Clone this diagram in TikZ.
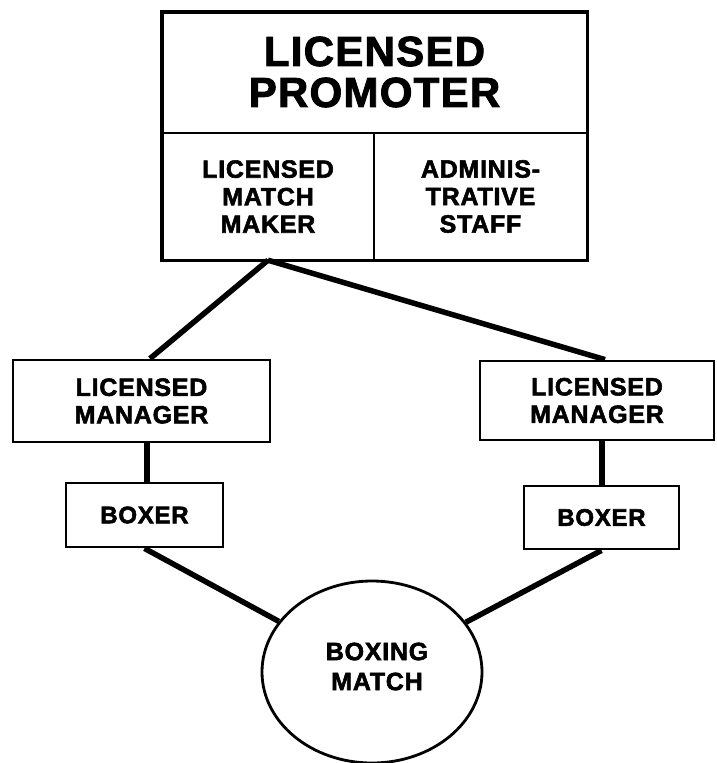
\documentclass[tikz,border=0pt]{standalone}
\usepackage{fontspec}
\setmainfont{Liberation Sans}[LetterSpace=3, BoldFeatures={FakeBold=2.2, LetterSpace=3}]
\usetikzlibrary{shapes.geometric,calc}
\begin{document}
\begin{tikzpicture}[x=1pt,y=-1pt,
  txt/.style={inner sep=0pt, align=center, font=\fontsize{25}{27.5}\selectfont\bfseries},
  box/.style={txt, draw, line width=2.8pt, rectangle},
  link/.style={line width=5.5pt}]
\path[use as bounding box] (0,0) rectangle (717,763);
% top block
\node[txt, minimum width=425, minimum height=120, font=\fontsize{42}{41}\selectfont\bfseries] (prom) at (374.5,72) {LICENSED\\PROMOTER};
\node[txt, minimum width=212, minimum height=127] (mm) at (268,196.5) {LICENSED\\MATCH\\MAKER};
\node[txt, minimum width=213, minimum height=127] (staff) at (480.5,196.5) {ADMINIS-\\TRATIVE\\STAFF};
\draw[line width=3.4pt] (mm.south west |- prom.north) rectangle (staff.south east);
\draw[line width=2pt] (mm.north west) -- (staff.north east);
\draw[line width=2pt] (mm.north east) -- (mm.south east);
% managers and boxers
\node[box, minimum width=257, minimum height=82] (lm) at (141.5,401) {LICENSED\\MANAGER};
\node[box, minimum width=234, minimum height=79] (rm) at (597,400.5) {LICENSED\\MANAGER};
\node[box, minimum width=157, minimum height=64, font=\fontsize{24}{28}\selectfont\bfseries] (lb) at (144.5,515) {BOXER};
\node[box, minimum width=155, minimum height=63, font=\fontsize{24}{28}\selectfont\bfseries] (rb) at (601.5,517.5) {BOXER};
% boxing match
\node[ellipse, draw, line width=2.8pt, minimum width=220, minimum height=182, inner sep=0pt] (bm) at (372,672) {};
\node[txt, font=\fontsize{25}{30}\selectfont\bfseries] (bmt) at (377,666.5) {BOXING\\MATCH};
% connectors
\draw[link] (mm.south) -- ($(lm.north)+(8.5,0)$);
\draw[link] (mm.south) -- ($(rm.north)+(8,0)$);
\draw[link] ($(lm.south)+(5.5,0)$) -- ($(lb.north)+(2.5,0)$);
\draw[link] ($(rm.south)+(5,0)$) -- ($(rb.north)+(0.5,0)$);
\draw[link] (lb.south) -- (bm);
\draw[link] (rb.south) -- (bm);
\end{tikzpicture}
\end{document}
